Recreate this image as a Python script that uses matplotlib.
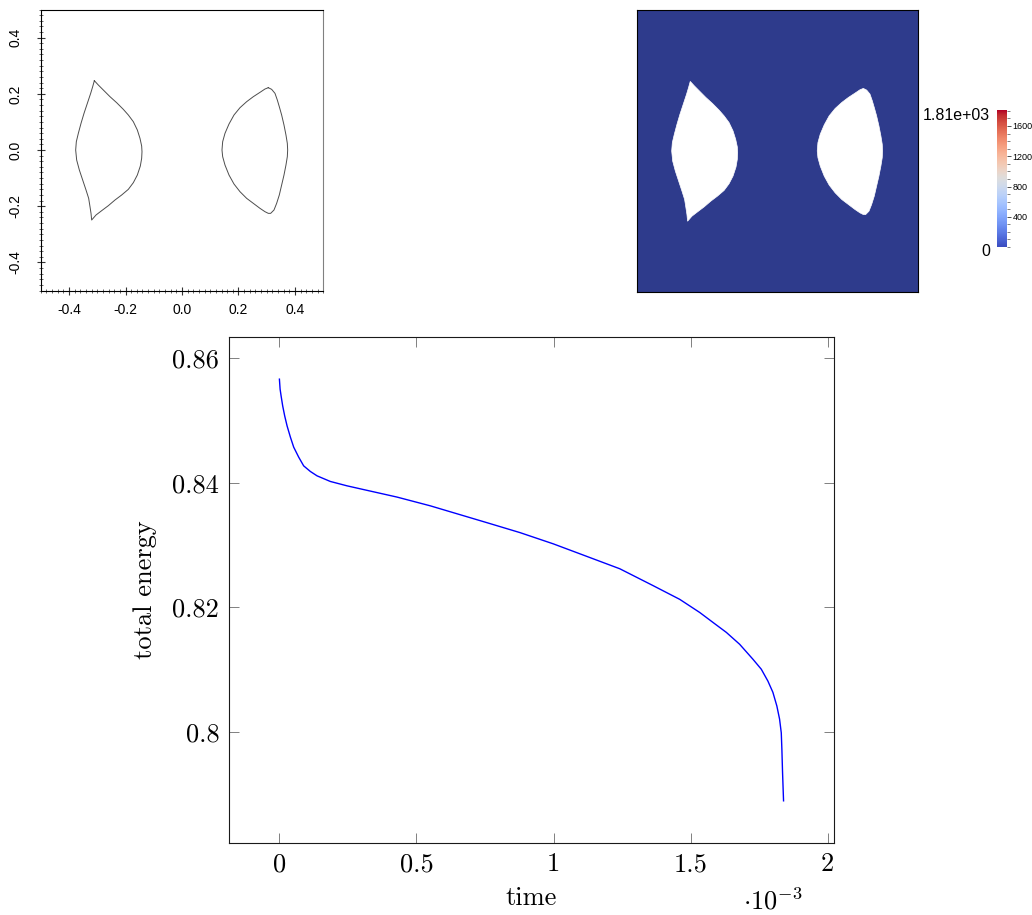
import numpy as np
import matplotlib
matplotlib.use("Agg")
import matplotlib.pyplot as plt
from matplotlib.ticker import MultipleLocator
from matplotlib.colors import Normalize
from matplotlib.colorbar import ColorbarBase

# droplet contours (domain -0.5..0.5)
left_drop_x = [-0.3103, -0.2962, -0.2785, -0.2549, -0.2313, -0.2077, -0.1900, -0.1723,
               -0.1581, -0.1487, -0.1428, -0.1416, -0.1428, -0.1475, -0.1581, -0.1723,
               -0.1900, -0.2136, -0.2372, -0.2608, -0.2844, -0.3044, -0.3198,
               -0.3221, -0.3257, -0.3304, -0.3398, -0.3516, -0.3634, -0.3729, -0.3764,
               -0.3741, -0.3670, -0.3575, -0.3469, -0.3351, -0.3233, -0.3162]
left_drop_y = [0.2467, 0.2313, 0.2135, 0.1898, 0.1684, 0.1447, 0.1246, 0.1008,
               0.0712, 0.0415, 0.0142, -0.0059, -0.0296, -0.0569, -0.0890, -0.1163,
               -0.1400, -0.1601, -0.1779, -0.1981, -0.2159, -0.2313, -0.2491,
               -0.2254, -0.2017, -0.1720, -0.1423, -0.1068, -0.0712, -0.0356, 0.0000,
               0.0296, 0.0593, 0.0949, 0.1305, 0.1661, 0.2017, 0.2254]
right_drop_x = [0.3056, 0.3174, 0.3292, 0.3375, 0.3445, 0.3528, 0.3611, 0.3681,
                0.3729, 0.3741, 0.3729, 0.3681, 0.3611, 0.3528, 0.3445, 0.3351,
                0.3257, 0.3139, 0.3056, 0.2938, 0.2761, 0.2525, 0.2289, 0.2053,
                0.1841, 0.1664, 0.1522, 0.1440, 0.1416, 0.1440, 0.1522, 0.1664,
                0.1841, 0.2053, 0.2289, 0.2525, 0.2761, 0.2938]
right_drop_y = [0.2218, 0.2159, 0.2017, 0.1779, 0.1542, 0.1246, 0.0890, 0.0534,
                0.0237, 0.0000, -0.0237, -0.0534, -0.0890, -0.1246, -0.1601, -0.1898,
                -0.2135, -0.2254, -0.2254, -0.2195, -0.2076, -0.1898, -0.1720, -0.1483,
                -0.1210, -0.0890, -0.0534, -0.0237, 0.0000, 0.0296, 0.0593, 0.0925,
                0.1246, 0.1506, 0.1720, 0.1898, 0.2052, 0.2171]

panel_ticks = [-0.4, -0.2, 0.0, 0.2, 0.4]
panel_labels = ["-0.4", "-0.2", "0.0", "0.2", "0.4"]

# colour field range
field_min, field_max = 0, 1810
cbar_ticks = [400, 800, 1200, 1600]

# total energy over time (time in units of 1e-3)
time_ms = [0.0, 0.0025, 0.0062, 0.012, 0.0193, 0.028, 0.0401, 0.0521, 0.0703, 0.0885,
           0.1129, 0.1373, 0.1857, 0.2465, 0.307, 0.4286, 0.5499, 0.7564, 0.8776,
           0.9989, 1.1205, 1.2418, 1.3631, 1.4603, 1.5331, 1.5816, 1.6304, 1.6788,
           1.7273, 1.7578, 1.7819, 1.8001, 1.8146, 1.8245, 1.8307, 1.8329, 1.8354, 1.839]
energy = [0.8566, 0.8550, 0.8539, 0.8523, 0.8507, 0.8491, 0.8473, 0.8457, 0.8441, 0.8427,
          0.8418, 0.8411, 0.8402, 0.8395, 0.8389, 0.8377, 0.8363, 0.8336, 0.8320,
          0.8302, 0.8282, 0.8262, 0.8235, 0.8213, 0.8192, 0.8176, 0.8160, 0.8141,
          0.8117, 0.8101, 0.8082, 0.8064, 0.8042, 0.8021, 0.7999, 0.7973, 0.7935, 0.7890]
time = np.array(time_ms) * 1e-3

x_ticks = [0, 0.5e-3, 1e-3, 1.5e-3, 2e-3]
x_labels = ["0", "0.5", "1", "1.5", "2"]
y_ticks = [0.80, 0.82, 0.84, 0.86]
y_labels = ["0.8", "0.82", "0.84", "0.86"]

plt.rcParams["mathtext.fontset"] = "cm"
sans = "Liberation Sans"

fig = plt.figure(figsize=(10.32, 9.15), dpi=100)

# ---- top left: contour lines
ax1 = fig.add_axes([0.0395, 0.6825, 0.2737, 0.3071])
ax1.plot(left_drop_x + left_drop_x[:1], left_drop_y + left_drop_y[:1], color="0.3", lw=0.7)
ax1.plot(right_drop_x + right_drop_x[:1], right_drop_y + right_drop_y[:1], color="0.3", lw=0.7)
ax1.set_xlim(-0.5, 0.5)
ax1.set_ylim(-0.5, 0.5)
ax1.set_xticks(panel_ticks)
ax1.set_xticklabels(panel_labels, fontfamily=sans, fontsize=10)
ax1.set_yticks(panel_ticks)
ax1.set_yticklabels(panel_labels, fontfamily=sans, fontsize=10, rotation=90, va="center")
ax1.xaxis.set_minor_locator(MultipleLocator(0.02))
ax1.yaxis.set_minor_locator(MultipleLocator(0.02))
ax1.tick_params(which="major", direction="inout", length=6, width=0.8, color="0.2")
ax1.tick_params(which="minor", direction="inout", length=3, width=0.6, color="0.3")
ax1.tick_params(axis="x", which="major", pad=6)
ax1.tick_params(axis="y", which="major", pad=10)
for s in ax1.spines.values():
    s.set_linewidth(0.8)
ax1.spines["right"].set_color("0.5")

# ---- top right: field image
ax2 = fig.add_axes([0.6172, 0.6809, 0.2723, 0.3082])
ax2.set_facecolor("#2e3b8c")
ax2.fill(left_drop_x, left_drop_y, color="white", lw=0.5, ec="white")
ax2.fill(right_drop_x, right_drop_y, color="white", lw=0.5, ec="white")
ax2.set_xlim(-0.5, 0.5)
ax2.set_ylim(-0.5, 0.5)
ax2.set_xticks([])
ax2.set_yticks([])
for s in ax2.spines.values():
    s.set_linewidth(0.8)

cax = fig.add_axes([0.9661, 0.7300, 0.0097, 0.1497])
cb = ColorbarBase(cax, cmap=plt.get_cmap("coolwarm"),
                  norm=Normalize(field_min, field_max), orientation="vertical")
cb.outline.set_visible(False)
cb.set_ticks(cbar_ticks)
cb.set_ticklabels([str(t) for t in cbar_ticks])
cax.yaxis.set_minor_locator(MultipleLocator(100))
cax.tick_params(which="major", length=3, width=0.7, color="0.3", labelsize=6.5, pad=1)
cax.tick_params(which="minor", length=2, width=0.5, color="0.3")
for lab in cax.get_yticklabels():
    lab.set_fontfamily(sans)
fig.text(990 / 1032, 1 - 115 / 915, "%.2e" % field_max, ha="right", va="center",
         fontsize=11.5, fontfamily=sans)
fig.text(990 / 1032, 1 - 252 / 915, str(field_min), ha="right", va="center",
         fontsize=11.5, fontfamily=sans)

# ---- bottom: total energy
ax3 = fig.add_axes([0.2219, 0.0787, 0.5862, 0.5530])
ax3.plot(time, energy, color="blue", lw=1.0)
ax3.margins(x=0.1, y=0.1)
ax3.set_xticks(x_ticks)
ax3.set_xticklabels(x_labels, fontfamily="cmr10", fontsize=19)
ax3.set_yticks(y_ticks)
ax3.set_yticklabels(y_labels, fontfamily="cmr10", fontsize=19)
ax3.tick_params(direction="in", length=7, width=0.7, color="0.5",
                top=True, right=True, pad=7)
for s in ax3.spines.values():
    s.set_linewidth(0.8)
    s.set_color("0.1")
ax3.set_xlabel("time", fontfamily="cmr10", fontsize=19)
ax3.xaxis.set_label_coords(0.5, -0.1087)
ax3.xaxis.label.set_va("center")
ax3.set_ylabel("total energy", fontfamily="cmr10", fontsize=19)
ax3.yaxis.set_label_coords(-0.139, 0.5)
ax3.yaxis.label.set_va("center")
ax3.text(0.899, -0.1166, r"$\cdot 10^{-3}$", transform=ax3.transAxes,
         ha="center", va="center", fontsize=19)

fig.savefig("out.png", dpi=100)
